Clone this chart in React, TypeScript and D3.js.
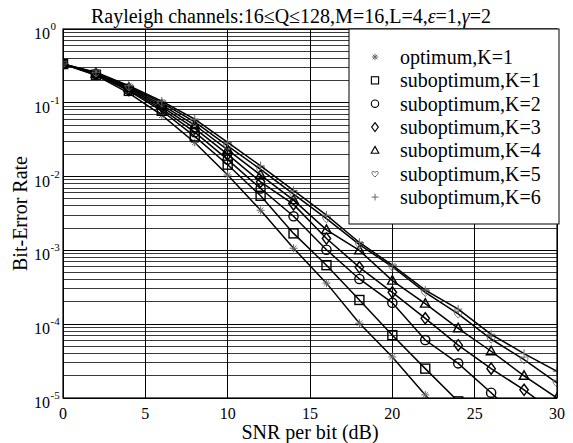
import React from 'react';
import * as d3 from 'd3';

const snrDb = [0, 2, 4, 6, 8, 10, 12, 14, 16, 18, 20, 22, 24, 26, 28, 30];
const optimumK1 = [0.335, 0.235, 0.135, 0.068, 0.029, 0.0105, 0.0035, 0.00107, 0.00036, 0.000103, 3.6e-5, 1.1e-5, 3.5e-6, 1e-6, 3e-7, 1e-7];
const suboptK1 = [0.335, 0.24, 0.145, 0.078, 0.035, 0.0145, 0.0055, 0.0017, 0.00063, 0.000213, 7.1e-5, 2.5e-5, 9e-6, 3e-6, 1e-6, 3e-7];
const suboptK2 = [0.335, 0.245, 0.15, 0.083, 0.04, 0.017, 0.0069, 0.0029, 0.00102, 0.00041, 0.000195, 6.1e-5, 2.95e-5, 1.18e-5, 4.5e-6, 1.7e-6];
const suboptK3 = [0.335, 0.248, 0.155, 0.088, 0.045, 0.02, 0.0085, 0.0042, 0.00145, 0.00059, 0.00027, 0.00012, 5.2e-5, 2.5e-5, 1.29e-5, 6e-6];
const suboptK4 = [0.335, 0.25, 0.16, 0.094, 0.05, 0.023, 0.0105, 0.0048, 0.0019, 0.001, 0.00039, 0.00019, 8.8e-5, 4.3e-5, 2.0e-5, 1.0e-5];
const suboptK5 = [0.335, 0.255, 0.165, 0.1, 0.055, 0.026, 0.0125, 0.0058, 0.0027, 0.0012, 0.0006, 0.00027, 0.000138, 6.3e-5, 3.3e-5, 1.6e-5];
const suboptK6 = [0.335, 0.26, 0.17, 0.105, 0.06, 0.029, 0.014, 0.0065, 0.003, 0.00128, 0.00063, 0.00029, 0.00016, 7.3e-5, 4.0e-5, 2.3e-5];

const seriesLabels = ['optimum,K=1', 'suboptimum,K=1', 'suboptimum,K=2', 'suboptimum,K=3', 'suboptimum,K=4', 'suboptimum,K=5', 'suboptimum,K=6'];
const seriesMarkers = ['asterisk', 'square', 'circle', 'diamond', 'triangle', 'heart', 'plus'];
const seriesValues = [optimumK1, suboptK1, suboptK2, suboptK3, suboptK4, suboptK5, suboptK6];

const xTicks = [0, 5, 10, 15, 20, 25, 30];
const yExponents = [0, -1, -2, -3, -4, -5];
const titleText = 'Rayleigh channels:16\u2264Q\u2264128,M=16,L=4,';
const xLabel = 'SNR per bit (dB)';
const yLabel = 'Bit-Error Rate';

const FONT = "'Liberation Serif', 'DejaVu Serif', serif";

function Marker({ type, cx, cy, s = 1 }: { type: string; cx: number; cy: number; s?: number }) {
  const common = { fill: 'none', stroke: '#000', strokeWidth: 1.4 * s };
  const thin = { fill: 'none', stroke: '#666', strokeWidth: 1 };
  switch (type) {
    case 'asterisk': {
      const r = 4 * s;
      const d = `M${cx - r},${cy}L${cx + r},${cy}M${cx},${cy - r}L${cx},${cy + r}M${cx - r * 0.7},${cy - r * 0.7}L${cx + r * 0.7},${cy + r * 0.7}M${cx - r * 0.7},${cy + r * 0.7}L${cx + r * 0.7},${cy - r * 0.7}`;
      return <path d={d} {...thin} />;
    }
    case 'square': {
      const h = 4.5 * s;
      return <rect x={cx - h} y={cy - h} width={2 * h} height={2 * h} {...common} />;
    }
    case 'circle':
      return <circle cx={cx} cy={cy} r={4.6 * s} {...common} />;
    case 'diamond': {
      const w = 4.2 * s, h = 5.6 * s;
      return <path d={`M${cx},${cy - h}L${cx + w},${cy}L${cx},${cy + h}L${cx - w},${cy}Z`} {...common} />;
    }
    case 'triangle': {
      const w = 4.8 * s;
      return <path d={`M${cx},${cy - 5 * s}L${cx + w},${cy + 3.5 * s}L${cx - w},${cy + 3.5 * s}Z`} {...common} />;
    }
    case 'heart': {
      const k = 4 * s;
      const d = `M${cx},${cy + k}C${cx - k * 1.6},${cy - k * 0.2} ${cx - k},${cy - k * 1.3} ${cx},${cy - k * 0.4}C${cx + k},${cy - k * 1.3} ${cx + k * 1.6},${cy - k * 0.2} ${cx},${cy + k}Z`;
      return <path d={d} {...thin} />;
    }
    case 'plus': {
      const r = 4.2 * s;
      return <path d={`M${cx - r},${cy}L${cx + r},${cy}M${cx},${cy - r}L${cx},${cy + r}`} {...thin} />;
    }
    default:
      return null;
  }
}

export default function App() {
  const W = 573, H = 443;
  const left = 63, right = 557, top = 29, bottom = 398;
  const x = d3.scaleLinear().domain([0, 30]).range([left, right]);
  const y = d3.scaleLog().domain([1e-5, 1]).range([bottom, top]);

  const minorVals: number[] = [];
  for (let e = -5; e < 0; e++) for (let k = 2; k <= 9; k++) minorVals.push(k * Math.pow(10, e));

  const line = d3.line<[number, number]>().x(d => x(d[0])).y(d => y(d[1]));

  const legX = 349, legY = 29, legW = 210, legH = 195;
  const rowY0 = 57, rowStep = 23.35;
  const txt = { fontFamily: FONT, fill: '#000' } as React.CSSProperties;

  return (
    <svg width={W} height={H} style={{ position: 'absolute', left: 0, top: 0, background: '#fff', fontFamily: FONT }}>
      <defs>
        <clipPath id="plotClip">
          <rect x={left} y={top} width={right - left} height={bottom - top} />
        </clipPath>
      </defs>
      <rect x={0} y={0} width={W} height={H} fill="#fff" />
      {/* grid */}
      <g stroke="#000" strokeWidth={1} fill="none" shapeRendering="crispEdges">
        {minorVals.map((v, i) => (
          <line key={'m' + i} x1={left} x2={right} y1={y(v)} y2={y(v)} stroke="#3a3a3a" />
        ))}
        {yExponents.map(e => (
          <line key={'M' + e} x1={left} x2={right} y1={y(Math.pow(10, e))} y2={y(Math.pow(10, e))} />
        ))}
        {xTicks.map(t => (
          <line key={'x' + t} x1={x(t)} x2={x(t)} y1={top} y2={bottom} />
        ))}
      </g>
      {/* series */}
      <g clipPath="url(#plotClip)">
        {seriesValues.map((vals, si) => {
          const pts: [number, number][] = snrDb.map((s, i) => [s, vals[i]]);
          return (
            <g key={si}>
              <path d={line(pts) || ''} fill="none" stroke="#000" strokeWidth={1.5} />
              {pts.map((p, i) => (
                <Marker key={i} type={seriesMarkers[si]} cx={x(p[0])} cy={y(p[1])} />
              ))}
            </g>
          );
        })}
      </g>
      {/* axes box */}
      <rect x={left} y={top} width={right - left} height={bottom - top} fill="none" stroke="#000" strokeWidth={1.2} />
      {/* legend */}
      <rect x={legX} y={legY} width={legW} height={legH} fill="#fff" stroke="#000" strokeWidth={1} />
      {seriesLabels.map((lab, i) => {
        const cy = rowY0 + i * rowStep;
        return (
          <g key={lab}>
            <Marker type={seriesMarkers[i]} cx={375} cy={cy} s={0.8} />
            <text x={400} y={cy + 7} fontSize={20} style={txt}>{lab}</text>
          </g>
        );
      })}
      {/* x tick labels */}
      {xTicks.map(t => (
        <text key={'xt' + t} x={x(t)} y={bottom + 21} fontSize={16} textAnchor="middle" style={txt}>{t}</text>
      ))}
      {/* y tick labels */}
      {yExponents.map(e => {
        const yy = y(Math.pow(10, e));
        return (
          <g key={'yt' + e}>
            <text x={50} y={yy + 10} fontSize={16} textAnchor="end" style={txt}>10</text>
            <text x={50.5} y={yy + 1} fontSize={11} textAnchor="start" style={txt}>{e}</text>
          </g>
        );
      })}
      {/* title */}
      <text x={291} y={23} fontSize={20} textAnchor="middle" style={txt}>
        {titleText}
        <tspan fontStyle="italic">{'\u03B5'}</tspan>
        {'=1,'}
        <tspan fontStyle="italic">{'\u03B3'}</tspan>
        {'=2'}
      </text>
      {/* axis labels */}
      <text x={(left + right) / 2} y={439} fontSize={20} textAnchor="middle" style={txt}>{xLabel}</text>
      <text transform={`translate(27,${(top + bottom) / 2}) rotate(-90)`} fontSize={20} textAnchor="middle" style={txt}>{yLabel}</text>
    </svg>
  );
}
